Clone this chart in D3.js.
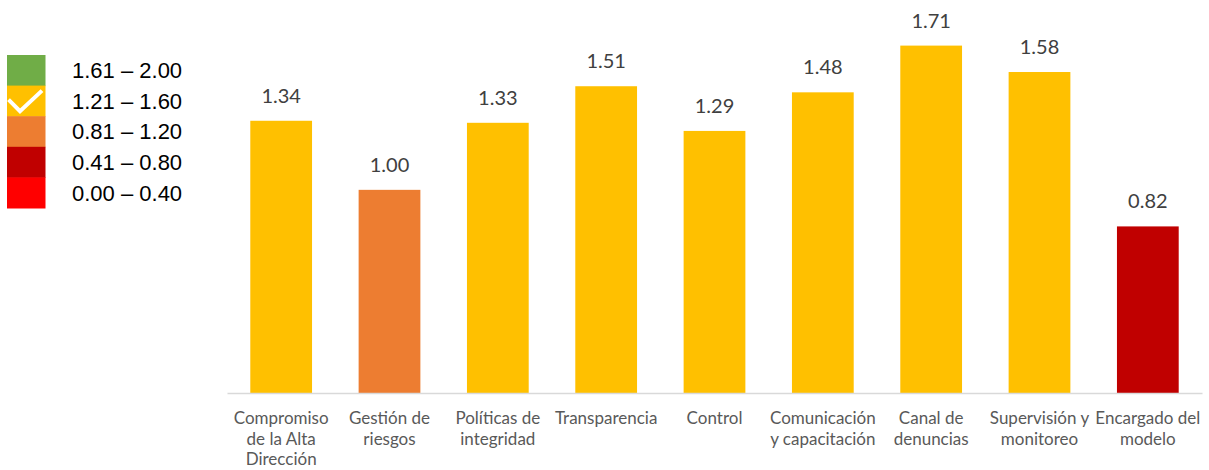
<!DOCTYPE html>
<html>
<head>
<meta charset="utf-8">
<script src="https://cdn.jsdelivr.net/npm/d3@7"></script>
<style>
  body { margin: 0; background: #fff; }
  svg { display: block; }
</style>
</head>
<body>
<svg id="chart" width="1209" height="470"></svg>
<script>
// categorias (los saltos de linea son los del grafico)
const categories = [
  "Compromiso\nde la Alta\nDirección",
  "Gestión de\nriesgos",
  "Políticas de\nintegridad",
  "Transparencia",
  "Control",
  "Comunicación\ny capacitación",
  "Canal de\ndenuncias",
  "Supervisión y\nmonitoreo",
  "Encargado del\nmodelo"
];
const values = [1.34, 1.00, 1.33, 1.51, 1.29, 1.48, 1.71, 1.58, 0.82];
// nivel de cada barra = fila de la leyenda
const barLevel = [1, 2, 1, 1, 1, 1, 1, 1, 3];

const legendLabels = ["1.61 – 2.00", "1.21 – 1.60", "0.81 – 1.20", "0.41 – 0.80", "0.00 – 0.40"];
const legendColors = ["#70AD47", "#FFC000", "#ED7D31", "#C00000", "#FF0000"];
const checkedRow = 1;

const svg = d3.select("#chart");

const x = d3.scaleBand()
  .domain(d3.range(categories.length))
  .range([227, 1202])
  .paddingInner(0.43)
  .paddingOuter(0.215);

const y = d3.scaleLinear()
  .domain([0, 1.9])
  .range([393, 7]);

const color = d3.scaleOrdinal()
  .domain(d3.range(legendColors.length))
  .range(legendColors);

// barras
svg.append("g")
  .selectAll("rect")
  .data(values)
  .join("rect")
  .attr("x", (d, i) => x(i))
  .attr("y", d => y(d))
  .attr("width", x.bandwidth())
  .attr("height", d => y(0) - y(d))
  .attr("fill", (d, i) => color(barLevel[i]));

// etiquetas de valor
svg.append("g")
  .selectAll("text")
  .data(values)
  .join("text")
  .attr("x", (d, i) => x(i) + x.bandwidth() / 2)
  .attr("y", d => y(d) - 18)
  .attr("text-anchor", "middle")
  .attr("font-family", "Lato, 'Open Sans', sans-serif")
  .attr("font-size", 20)
  .attr("fill", "#404040")
  .text(d => d3.format(".2f")(d));

// eje x
const xAxis = svg.append("g")
  .attr("transform", `translate(0,${y(0)})`)
  .call(d3.axisBottom(x).tickSize(0).tickFormat(""));
xAxis.select(".domain").attr("stroke", "#D9D9D9").attr("stroke-width", 1.5);

const labels = svg.append("g")
  .selectAll("text")
  .data(categories)
  .join("text")
  .attr("x", (d, i) => x(i) + x.bandwidth() / 2)
  .attr("y", y(0) + 31)
  .attr("text-anchor", "middle")
  .attr("font-family", "Lato, 'Open Sans', sans-serif")
  .attr("font-size", 17)
  .attr("fill", "#595959");

labels.selectAll("tspan")
  .data(d => d.split("\n"))
  .join("tspan")
  .attr("x", function () { return d3.select(this.parentNode).attr("x"); })
  .attr("dy", (d, i) => i === 0 ? 0 : 20.5)
  .text(d => d);

// leyenda
const rowH = 30.6;
const legend = svg.append("g").attr("transform", "translate(7,55)");

const rows = legend.selectAll("g")
  .data(legendLabels)
  .join("g")
  .attr("transform", (d, i) => `translate(0,${i * rowH})`);

rows.append("rect")
  .attr("width", 38.5)
  .attr("height", rowH + 0.5)
  .attr("fill", (d, i) => legendColors[i]);

rows.append("text")
  .attr("x", 65)
  .attr("y", rowH / 2 + 8)
  .attr("font-family", "'Liberation Sans', Arial, sans-serif")
  .attr("font-size", 22)
  .attr("fill", "#000")
  .text(d => d);

rows.filter((d, i) => i === checkedRow)
  .append("path")
  .attr("d", "M1.5,14 L13,25.5 L35,5")
  .attr("fill", "none")
  .attr("stroke", "#fff")
  .attr("stroke-width", 4);
</script>
</body>
</html>
